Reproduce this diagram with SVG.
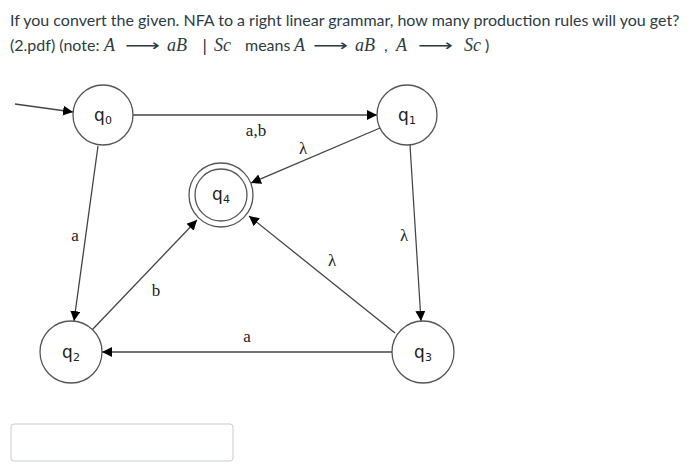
<svg xmlns="http://www.w3.org/2000/svg" width="695" height="476" viewBox="0 0 695 476">
<defs>
<marker id="ah" viewBox="0 0 10 10" refX="10" refY="5" markerWidth="10" markerHeight="10" markerUnits="userSpaceOnUse" orient="auto">
<path d="M0,0 L10,5 L0,10 z" fill="#000"/>
</marker>
<style>
.q{font-family:Lato,"Open Sans","Liberation Sans",sans-serif;font-size:16px;fill:#2d3b45}
.m{font-family:"Liberation Serif",serif;font-style:italic;font-size:18px;fill:#2d3b45}
.ar{font-family:"DejaVu Sans",sans-serif;font-size:16px;fill:#2d3b45}
.n circle{fill:#fff;stroke:#555;stroke-width:1.3}
.n text{font-family:"DejaVu Sans","Liberation Sans",sans-serif;font-size:17px;fill:#222;text-anchor:middle}
.n tspan{font-size:11px}
.e line{stroke:#444;stroke-width:1.3;marker-end:url(#ah)}
.l{font-family:"Liberation Serif",serif;font-size:17px;fill:#222;text-anchor:middle}
</style>
</defs>
<rect width="695" height="476" fill="#fff"/>
<text class="q" x="10" y="26">If you convert the given. NFA to a right linear grammar, how many production rules will you get?</text>
<text class="q" x="10" y="51">(2.pdf) (note: </text>
<text class="m" x="104" y="51">A</text>
<text class="ar" x="125" y="51" textLength="35" lengthAdjust="spacingAndGlyphs">⟶</text>
<text class="m" x="167" y="51">aB</text>
<text class="ar" x="202" y="51">|</text>
<text class="m" x="214" y="51">Sc</text>
<text class="q" x="245" y="51">means</text>
<text class="m" x="294" y="51">A</text>
<text class="ar" x="313" y="51" textLength="35" lengthAdjust="spacingAndGlyphs">⟶</text>
<text class="m" x="355" y="51">aB</text>
<text class="q" x="384" y="51">,</text>
<text class="m" x="396" y="51">A</text>
<text class="ar" x="418" y="51" textLength="35" lengthAdjust="spacingAndGlyphs">⟶</text>
<text class="m" x="464" y="51">Sc</text>
<text class="q" x="485" y="51">)</text>

<g id="connectors" class="e">
<line x1="15" y1="104" x2="73" y2="112"/>
<line x1="133" y1="115" x2="377" y2="115"/>
<line x1="98" y1="146" x2="74" y2="321"/>
<line x1="410" y1="145" x2="421" y2="321"/>
<line x1="380" y1="128" x2="251" y2="183"/>
<line x1="395" y1="333" x2="249" y2="216"/>
<line x1="92" y1="330" x2="197" y2="220"/>
<line x1="392" y1="352" x2="102" y2="352"/>
</g>
<g id="labels">
<text class="l" x="256" y="136">a,b</text>
<text class="l" x="303" y="154">λ</text>
<text class="l" x="75" y="241">a</text>
<text class="l" x="404" y="241">λ</text>
<text class="l" x="332" y="266">λ</text>
<text class="l" x="156" y="296">b</text>
<text class="l" x="247" y="342">a</text>
</g>
<g id="q0" class="n"><circle cx="103" cy="115" r="30"/><text x="103" y="121">q<tspan dy="3">0</tspan></text></g>
<g id="q1" class="n"><circle cx="407" cy="115" r="30"/><text x="407" y="121">q<tspan dy="3">1</tspan></text></g>
<g id="q2" class="n"><circle cx="71" cy="352" r="31"/><text x="71" y="358">q<tspan dy="3">2</tspan></text></g>
<g id="q3" class="n"><circle cx="423" cy="352" r="31"/><text x="423" y="358">q<tspan dy="3">3</tspan></text></g>
<g id="q4" class="n"><circle cx="221" cy="195" r="32"/><circle cx="221" cy="195" r="26"/><text x="221" y="200">q<tspan dy="3">4</tspan></text></g>
<rect x="11" y="424" width="222" height="37" rx="3" fill="#fff" stroke="#c7cdd1" stroke-width="1"/>
</svg>
